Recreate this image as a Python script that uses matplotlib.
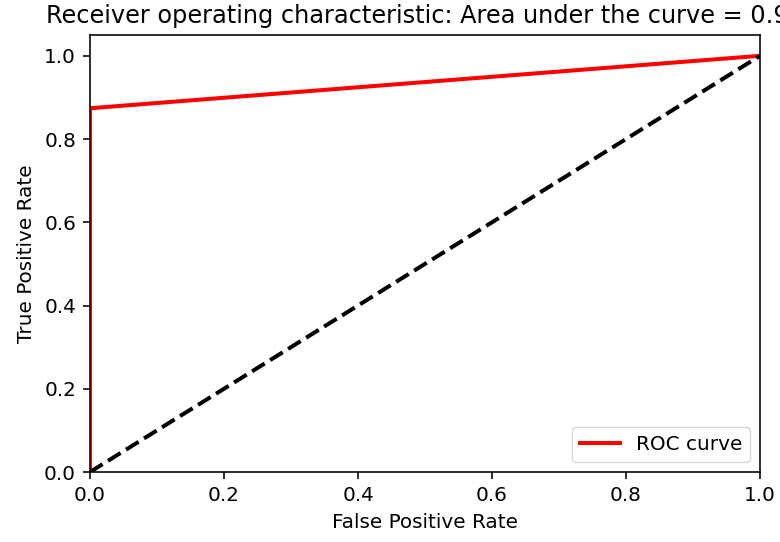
import matplotlib
matplotlib.use('Agg')
import matplotlib.pyplot as plt

# ROC points
fpr = [0.0, 0.0, 1.0]
tpr = [0.0, 0.874, 1.0]
chance = [0.0, 1.0]

# area under the curve (trapezoids)
roc_auc = 0.0
for i in range(1, len(fpr)):
    roc_auc += (fpr[i] - fpr[i-1]) * (tpr[i] + tpr[i-1]) / 2

s = 1.44  # the reference looks like a 72 dpi notebook figure blown up 2x
plt.rcParams.update({
    'font.size': 10 * s,
    'axes.linewidth': 0.8 * s,
    'xtick.major.size': 3.5 * s,
    'ytick.major.size': 3.5 * s,
    'xtick.major.width': 0.8 * s,
    'ytick.major.width': 0.8 * s,
    'xtick.major.pad': 3.5 * s,
    'ytick.major.pad': 3.5 * s,
    'axes.labelpad': 4 * s,
    'axes.titlepad': 6 * s,
    'axes.titlesize': 12 * s,
})

fig = plt.figure(figsize=(7.8, 5.42), dpi=100)
ax = fig.add_axes([90/780, 70/542, 670/780, 437/542])

ax.plot(fpr, tpr, color='red', lw=2 * s, label='ROC curve')
ax.plot(chance, chance, 'k--', lw=2 * s)
ax.set_xlim([0.0, 1.0])
ax.set_ylim([0.0, 1.05])
ax.set_xlabel('False Positive Rate')
ax.set_ylabel('True Positive Rate')
ax.set_title('Receiver operating characteristic: Area under the curve = {0:0.2f}'.format(roc_auc))
ax.legend(loc='lower right')

fig.savefig('out.png', dpi=100)
